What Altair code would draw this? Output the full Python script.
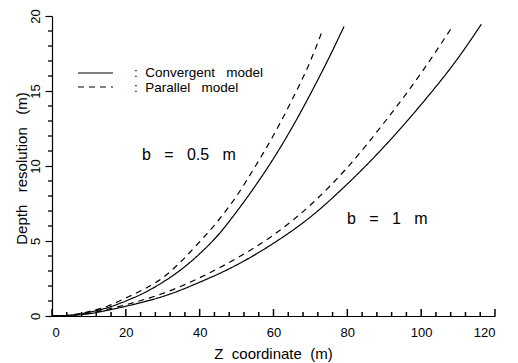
import altair as alt
import pandas as pd

# Depth resolution versus Z coordinate, two baselines (b), two models
conv_05_z = [0, 5, 10, 15, 20, 25, 30, 35, 40, 45, 50, 55, 60, 65, 70, 75, 79.1]
conv_05_d = [0, 0.05, 0.25, 0.55, 1.0, 1.55, 2.25, 3.1, 4.15, 5.4, 6.95, 8.65, 10.5, 12.55, 14.8, 17.2, 19.3]

par_05_z = [0, 5, 10, 15, 20, 25, 30, 35, 40, 45, 50, 55, 60, 65, 70, 73.2]
par_05_d = [0, 0.06, 0.3, 0.65, 1.2, 1.8, 2.55, 3.65, 4.95, 6.35, 8.0, 9.95, 12.05, 14.4, 17.0, 19.0]

conv_1_z = [0, 5, 10, 15, 20, 25, 30, 40, 50, 60, 70, 80, 90, 100, 110, 116.3]
conv_1_d = [0, 0.04, 0.15, 0.38, 0.65, 0.95, 1.3, 2.25, 3.4, 4.85, 6.6, 8.8, 11.3, 14.1, 17.2, 19.45]

par_1_z = [0, 5, 10, 15, 20, 25, 30, 40, 50, 60, 70, 80, 90, 100, 108.2]
par_1_d = [0, 0.05, 0.18, 0.45, 0.75, 1.1, 1.5, 2.55, 3.85, 5.4, 7.4, 9.9, 12.9, 16.2, 19.2]

models = ["Convergent model", "Parallel model"]
x_major = [0, 20, 40, 60, 80, 100, 120]
x_minor = [v for v in range(0, 121, 4) if v % 20 != 0]
y_major = [0, 5, 10, 15, 20]
y_minor = [v for v in range(0, 21) if v % 5 != 0]

FONT = "Liberation Sans"
NB = "\u00a0"  # non-collapsing space for the wide word gaps


def spaced(s, n=3):
    return s.replace(" ", NB * n)


rows = []
for zs, ds, model, b in [
    (conv_05_z, conv_05_d, models[0], "0.5"),
    (par_05_z, par_05_d, models[1], "0.5"),
    (conv_1_z, conv_1_d, models[0], "1"),
    (par_1_z, par_1_d, models[1], "1"),
]:
    for z, d in zip(zs, ds):
        rows.append({"z": z, "d": d, "model": model, "b": b})
df = pd.DataFrame(rows)

xscale = alt.Scale(domain=[0, 120], nice=False, zero=False)
yscale = alt.Scale(domain=[0, 20], nice=False, zero=False)

xaxis = alt.Axis(
    values=x_major, ticks=False, tickSize=0, grid=False,
    domainColor="black", domainWidth=1.2,
    labelFont=FONT, labelFontSize=13, labelColor="black", labelPadding=10,
    title=spaced("Z coordinate (m)", 2), titleFont=FONT, titleFontSize=15,
    titleFontWeight="normal", titleColor="black",
    titleX=221, titleY=37, titleBaseline="middle")
yaxis = alt.Axis(
    values=y_major, tickSize=7, tickColor="black", tickWidth=1.2, grid=False,
    domainColor="black", domainWidth=1.2,
    labelFont=FONT, labelFontSize=13, labelColor="black", labelAngle=270,
    labelAlign="center", labelBaseline="bottom", labelPadding=3,
    title=spaced("Depth resolution (m)", 3), titleFont=FONT, titleFontSize=15,
    titleFontWeight="normal", titleColor="black", titleAngle=270,
    titleX=-31, titleY=152, titleBaseline="middle", titleAlign="center")

lines = alt.Chart(df).mark_line(interpolate="monotone", color="black", strokeWidth=1.2).encode(
    x=alt.X("z:Q", scale=xscale, axis=xaxis),
    y=alt.Y("d:Q", scale=yscale, axis=yaxis),
    strokeDash=alt.StrokeDash("model:N", scale=alt.Scale(domain=models, range=[[1, 0], [6, 5]]), legend=None),
    detail="b:N",
)

# inward tick marks on the Z axis
xmaj = alt.Chart(pd.DataFrame({"z": x_major})).mark_tick(
    color="black", opacity=1, thickness=1.5, size=7, orient="vertical", yOffset=-3.5).encode(
    x=alt.X("z:Q", scale=xscale, axis=xaxis), y=alt.value(300))
xmin = alt.Chart(pd.DataFrame({"z": x_minor})).mark_tick(
    color="black", opacity=1, thickness=1.5, size=4, orient="vertical", yOffset=-2).encode(
    x=alt.X("z:Q", scale=xscale, axis=xaxis), y=alt.value(300))
# outward minor ticks on the depth axis
ymin = alt.Chart(pd.DataFrame({"d": y_minor})).mark_rule(
    color="black", opacity=1, strokeWidth=1.3).encode(
    y=alt.Y("d:Q", scale=yscale, axis=yaxis), x=alt.value(-4), x2=alt.value(0))

# key
key_solid = alt.Chart(pd.DataFrame({"m": [models[0]]})).mark_rule(color="black", strokeWidth=1.2).encode(
    x=alt.value(26), x2=alt.value(61), y=alt.value(57))
key_dash = alt.Chart(pd.DataFrame({"m": [models[1]]})).mark_rule(color="black", strokeWidth=1.2, strokeDash=[6, 5]).encode(
    x=alt.value(26), x2=alt.value(61), y=alt.value(71))


def label(text, x, y, size):
    return alt.Chart(pd.DataFrame({"t": [text]})).mark_text(
        font=FONT, fontSize=size, align="left", baseline="middle", color="black").encode(
        text="t:N", x=alt.value(x), y=alt.value(y))


key_t1 = label(":" + NB * 2 + spaced(models[0], 3), 82, 57, 13.5)
key_t2 = label(":" + NB * 2 + spaced(models[1], 3), 82, 71.5, 13.5)
lab05 = label(spaced("b = 0.5 m", 3), 90, 139, 16)
lab1 = label(spaced("b = 1 m", 3), 295, 203, 16)

chart = alt.layer(lines, xmaj, xmin, ymin, key_solid, key_dash, key_t1, key_t2, lab05, lab1).properties(
    width=443, height=300,
    autosize=alt.AutoSizeParams(type="none"),
    padding={"left": 52, "top": 16, "right": 23, "bottom": 47},
    background="white",
).configure_view(stroke=None)

chart.save("out.html", embed_options={"renderer": "svg", "actions": False})
